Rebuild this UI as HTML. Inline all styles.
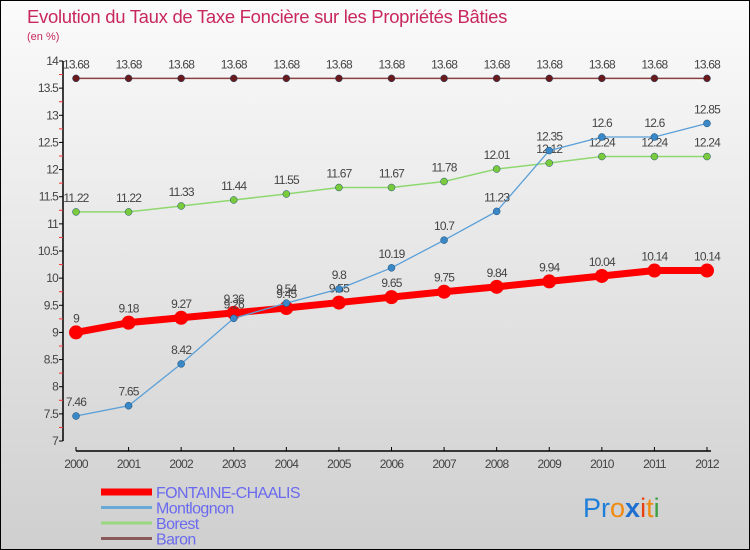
<!DOCTYPE html>
<html><head><meta charset="utf-8"><style>
body{margin:0;}
#c{width:750px;height:550px;position:relative;box-sizing:border-box;border:1px solid #000;background:linear-gradient(#fbfbfb,#cfcfcf);overflow:hidden;font-family:"Liberation Sans",sans-serif;}
svg text{font-family:"Liberation Sans",sans-serif;}
</style></head><body>
<div id="c">
<svg id="s" width="750" height="550">
<text x="26" y="22" font-size="18.5" fill="#c8285e" letter-spacing="-0.3">Evolution du Taux de Taxe Foncière sur les Propriétés Bâties</text>
<text x="26" y="39" font-size="11" fill="#c8285e">(en %)</text>
<text x="582" y="516" font-size="27" font-family="Liberation Sans"><tspan fill="#1e7fd8">Pr</tspan><tspan fill="#f08a10">o</tspan><tspan fill="#1e6fd0" font-weight="bold">x</tspan><tspan fill="#e84010">i</tspan><tspan fill="#f08a10">t</tspan><tspan fill="#3aa040">i</tspan></text>
</svg>
</div>
<script>
const years=[2000,2001,2002,2003,2004,2005,2006,2007,2008,2009,2010,2011,2012];
const fontaine=[9,9.18,9.27,9.36,9.45,9.55,9.65,9.75,9.84,9.94,10.04,10.14,10.14];
const montlognon=[7.46,7.65,8.42,9.26,9.54,9.8,10.19,10.7,11.23,12.35,12.6,12.6,12.85];
const borest=[11.22,11.22,11.33,11.44,11.55,11.67,11.67,11.78,12.01,12.12,12.24,12.24,12.24];
const baron=[13.68,13.68,13.68,13.68,13.68,13.68,13.68,13.68,13.68,13.68,13.68,13.68,13.68];
const yTicks=[7,7.5,8,8.5,9,9.5,10,10.5,11,11.5,12,12.5,13,13.5,14];
const seriesNames=["FONTAINE-CHAALIS","Montlognon","Borest","Baron"];
const NS="http://www.w3.org/2000/svg";
const s=document.getElementById('s');
const X=i=>75+i*(706-75)/(years.length-1);
const Y=v=>440-(v-7)*(380/7);
function el(t,a,p){const e=document.createElementNS(NS,t);for(const k in a)e.setAttribute(k,a[k]);(p||s).appendChild(e);return e;}
let ya=el('line',{x1:62,y1:60,x2:62,y2:440,stroke:'#000','stroke-width':1.5});


yTicks.forEach((v,i)=>{
  el('line',{x1:58,y1:Y(v),x2:62,y2:Y(v),stroke:'#000'});
  if(i<yTicks.length-1)el('line',{x1:58,y1:Y(v+0.25),x2:62,y2:Y(v+0.25),stroke:'#f33'});
  const t=el('text',{x:57,y:Y(v)+4,'font-size':12,'text-anchor':'end',fill:'#444','letter-spacing':'-0.8'});
  t.textContent=String(v);
  
  
});
let xa=el('line',{x1:75,y1:450,x2:710,y2:450,stroke:'#000','stroke-width':1.5});


years.forEach((y,i)=>{
  el('line',{x1:X(i),y1:446,x2:X(i),y2:450,stroke:'#000'});
  const t=el('text',{x:X(i),y:467,'font-size':12,'text-anchor':'middle',fill:'#444','letter-spacing':'-0.8'});
  t.textContent=y;
  
  
});
function series(data,color,lw,r,fill,name){
  const g=el('g',{});
  
  
  el('polyline',{points:data.map((v,i)=>X(i)+','+Y(v)).join(' '),fill:'none',stroke:color,'stroke-width':lw},g);
  data.forEach((v,i)=>{
    const c=el('circle',{cx:X(i),cy:Y(v),r:r,fill:fill,stroke:r>5?'none':'#1a4a70','stroke-width':r>5?0:0.5},g);
    
    
    const t=el('text',{x:X(i),y:Y(v)-10,'font-size':12,'text-anchor':'middle',fill:'#444','letter-spacing':'-0.8'},g);
    t.textContent=String(v);
    
    
  });
}
series(baron,'#8a4040',1.5,3.5,'#6a1a1a','baron');
series(borest,'#8fd870',1.5,3.5,'#7acb3c','borest');
series(fontaine,'#ff0000',7,7,'#ff0000','fontaine-chaalis');
series(montlognon,'#5a9fd8',1.3,3.5,'#3a88c8','montlognon');
const lc=['#ff0000','#6aa8d8','#98d880','#8a5a5a'],lw=[7,3,3,3];
seriesNames.forEach((n,i)=>{
  const y=491+i*15.5;
  const g=el('g',{});
  
  
  el('line',{x1:100,y1:y,x2:151,y2:y,stroke:lc[i],'stroke-width':lw[i]},g);
  const t=el('text',{x:155,y:y+6,'font-size':16,fill:'#6a6aee','letter-spacing':'-0.6'},g);
  t.textContent=n;
});
</script>
</body></html>
